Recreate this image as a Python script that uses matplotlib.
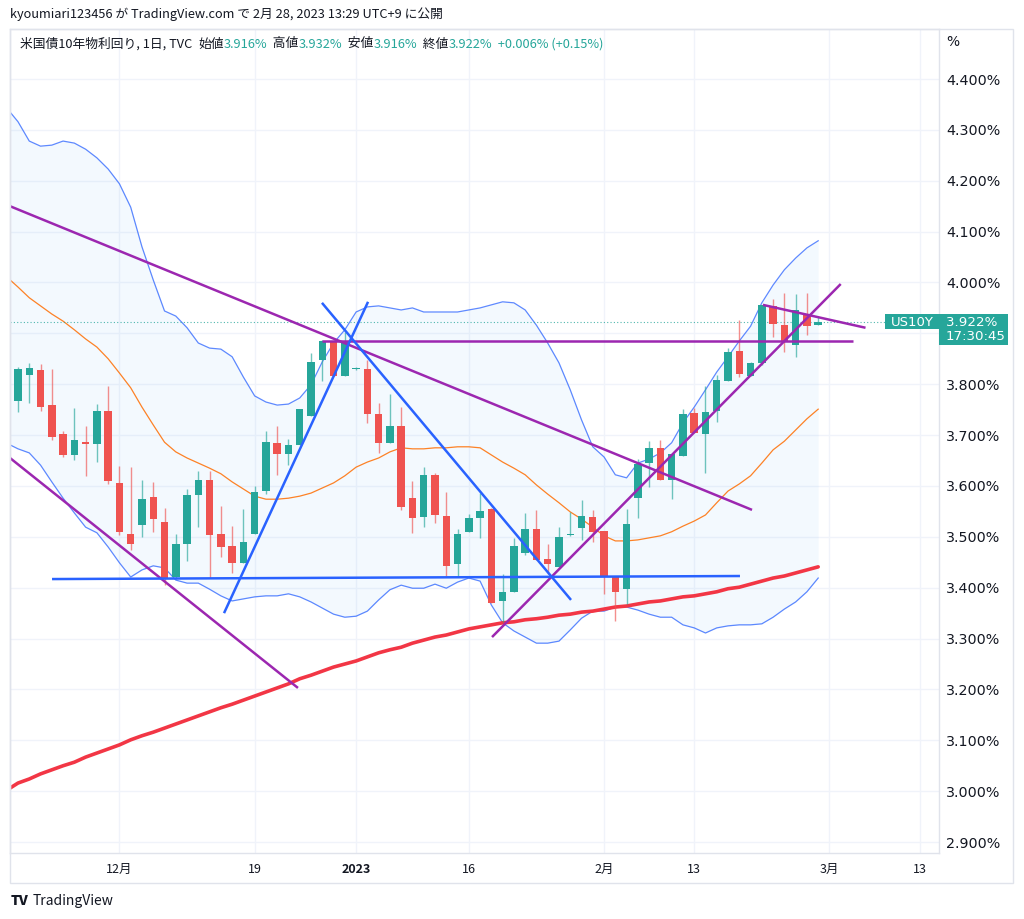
import matplotlib
matplotlib.use("Agg")
import matplotlib.pyplot as plt
from matplotlib.patches import Rectangle

plt.rcParams['font.family'] = ['Noto Sans CJK JP', 'DejaVu Sans']

# ---- data (bar index -1 .. 71, daily, US10Y) ----
opens = [3.690, 3.767, 3.818, 3.828, 3.759, 3.702, 3.661, 3.686, 3.682, 3.747,
         3.606, 3.506, 3.523, 3.578, 3.529, 3.421, 3.486, 3.582, 3.612, 3.506,
         3.482, 3.449, 3.506, 3.590, 3.684, 3.663, 3.680, 3.738, 3.848, 3.883,
         3.816, 3.829, 3.830, 3.741, 3.684, 3.718, 3.576, 3.539, 3.622, 3.541,
         3.447, 3.510, 3.537, 3.555, 3.374, 3.392, 3.468, 3.515, 3.456, 3.441,
         3.504, 3.517, 3.539, 3.512, 3.423, 3.397, 3.576, 3.645, 3.675, 3.612,
         3.659, 3.743, 3.702, 3.747, 3.806, 3.865, 3.816, 3.842, 3.954, 3.916,
         3.877, 3.936, 3.916]
highs = [3.785, 3.834, 3.842, 3.840, 3.830, 3.708, 3.753, 3.718, 3.761, 3.797,
         3.639, 3.637, 3.612, 3.608, 3.557, 3.506, 3.594, 3.629, 3.629, 3.561,
         3.521, 3.555, 3.600, 3.708, 3.718, 3.692, 3.751, 3.861, 3.887, 3.887,
         3.903, 3.833, 3.848, 3.763, 3.781, 3.755, 3.610, 3.637, 3.626, 3.588,
         3.515, 3.545, 3.586, 3.557, 3.427, 3.498, 3.547, 3.553, 3.486, 3.519,
         3.549, 3.572, 3.553, 3.512, 3.423, 3.555, 3.653, 3.688, 3.690, 3.663,
         3.751, 3.753, 3.797, 3.818, 3.871, 3.926, 3.844, 3.956, 3.968, 3.979,
         3.977, 3.979, 3.932]
lows = [3.682, 3.745, 3.763, 3.747, 3.690, 3.657, 3.651, 3.620, 3.647, 3.604,
        3.504, 3.474, 3.500, 3.510, 3.405, 3.417, 3.452, 3.519, 3.419, 3.460,
        3.429, 3.449, 3.506, 3.584, 3.622, 3.641, 3.680, 3.738, 3.806, 3.816,
        3.816, 3.827, 3.724, 3.665, 3.684, 3.553, 3.508, 3.519, 3.527, 3.423,
        3.423, 3.510, 3.498, 3.370, 3.333, 3.392, 3.464, 3.454, 3.427, 3.441,
        3.502, 3.494, 3.490, 3.388, 3.335, 3.368, 3.537, 3.598, 3.612, 3.574,
        3.659, 3.704, 3.625, 3.726, 3.806, 3.814, 3.816, 3.838, 3.893, 3.863,
        3.853, 3.897, 3.916]
closes = [3.773, 3.830, 3.832, 3.755, 3.696, 3.661, 3.690, 3.682, 3.747, 3.610,
          3.510, 3.486, 3.574, 3.535, 3.417, 3.486, 3.582, 3.612, 3.504, 3.480,
          3.449, 3.490, 3.588, 3.686, 3.663, 3.680, 3.751, 3.844, 3.885, 3.816,
          3.883, 3.831, 3.741, 3.684, 3.718, 3.559, 3.537, 3.622, 3.543, 3.443,
          3.506, 3.537, 3.551, 3.370, 3.392, 3.482, 3.515, 3.454, 3.447, 3.500,
          3.506, 3.541, 3.510, 3.421, 3.392, 3.525, 3.643, 3.675, 3.612, 3.663,
          3.741, 3.704, 3.745, 3.808, 3.863, 3.820, 3.842, 3.956, 3.918, 3.883,
          3.946, 3.914, 3.922]

bb_upper = [4.343, 4.316, 4.278, 4.268, 4.270, 4.278, 4.274, 4.262, 4.245, 4.223,
            4.194, 4.148, 4.070, 4.005, 3.944, 3.934, 3.911, 3.881, 3.871, 3.869,
            3.854, 3.814, 3.777, 3.765, 3.759, 3.761, 3.773, 3.799, 3.844, 3.881,
            3.907, 3.942, 3.952, 3.954, 3.950, 3.946, 3.950, 3.942, 3.942, 3.942,
            3.942, 3.946, 3.950, 3.956, 3.962, 3.960, 3.946, 3.916, 3.881, 3.842,
            3.789, 3.730, 3.677, 3.657, 3.622, 3.616, 3.645, 3.653, 3.665, 3.685,
            3.724, 3.755, 3.789, 3.824, 3.854, 3.885, 3.914, 3.960, 3.995, 4.025,
            4.048, 4.068, 4.082]
bb_basis = [4.011, 3.991, 3.970, 3.954, 3.938, 3.924, 3.907, 3.889, 3.873, 3.850,
            3.822, 3.793, 3.755, 3.720, 3.686, 3.667, 3.655, 3.645, 3.635, 3.624,
            3.608, 3.594, 3.580, 3.574, 3.574, 3.576, 3.580, 3.586, 3.596, 3.606,
            3.620, 3.637, 3.647, 3.655, 3.667, 3.675, 3.673, 3.673, 3.675, 3.675,
            3.677, 3.677, 3.675, 3.661, 3.647, 3.635, 3.622, 3.602, 3.584, 3.567,
            3.549, 3.535, 3.519, 3.502, 3.492, 3.492, 3.494, 3.498, 3.502, 3.510,
            3.521, 3.531, 3.543, 3.567, 3.590, 3.604, 3.620, 3.645, 3.671, 3.688,
            3.710, 3.732, 3.751]
bb_lower = [3.684, 3.673, 3.665, 3.641, 3.608, 3.576, 3.547, 3.519, 3.508, 3.480,
            3.449, 3.421, 3.435, 3.443, 3.439, 3.415, 3.409, 3.409, 3.397, 3.384,
            3.374, 3.378, 3.382, 3.384, 3.384, 3.388, 3.382, 3.372, 3.360, 3.348,
            3.342, 3.344, 3.354, 3.376, 3.396, 3.405, 3.399, 3.399, 3.407, 3.399,
            3.411, 3.419, 3.413, 3.366, 3.331, 3.315, 3.303, 3.291, 3.291, 3.295,
            3.317, 3.340, 3.354, 3.354, 3.362, 3.362, 3.356, 3.348, 3.342, 3.342,
            3.327, 3.321, 3.311, 3.321, 3.325, 3.327, 3.327, 3.329, 3.342, 3.358,
            3.372, 3.392, 3.419]
ma200 = [3.002, 3.016, 3.024, 3.034, 3.042, 3.050, 3.057, 3.067, 3.075, 3.083,
         3.091, 3.101, 3.109, 3.116, 3.124, 3.132, 3.140, 3.148, 3.156, 3.164,
         3.171, 3.179, 3.187, 3.195, 3.203, 3.211, 3.221, 3.228, 3.236, 3.244,
         3.250, 3.256, 3.264, 3.272, 3.278, 3.283, 3.291, 3.297, 3.303, 3.307,
         3.313, 3.319, 3.323, 3.327, 3.331, 3.333, 3.337, 3.339, 3.342, 3.346,
         3.348, 3.352, 3.354, 3.358, 3.362, 3.364, 3.368, 3.372, 3.374, 3.378,
         3.382, 3.384, 3.388, 3.392, 3.398, 3.401, 3.407, 3.413, 3.419, 3.423,
         3.429, 3.435, 3.441]
bars = list(range(-1, len(opens) - 1))

# hand drawn trend lines: (bar0, price0, bar1, price1)
purple_lines = [(-0.71, 4.150, 65.13, 3.553),
                (26.97, 3.885, 74.10, 3.885),
                (66.10, 3.956, 75.20, 3.911),
                (42.06, 3.303, 73.00, 3.997),
                (-0.71, 3.655, 24.84, 3.203)]
blue_lines = [(3.02, 3.417, 64.06, 3.423),
              (18.28, 3.350, 31.06, 3.962),
              (26.97, 3.960, 49.07, 3.376)]

last_price = 3.922
x_ticks = [9, 21, 30, 40, 52, 60, 72, 80]
x_tick_labels = ["12月", "19", "2023", "16", "2月", "13", "3月", "13"]
y_ticks = [2.9, 3.0, 3.1, 3.2, 3.3, 3.4, 3.5, 3.6, 3.7, 3.8, 3.9, 4.0, 4.1, 4.2, 4.3, 4.4]
# 3.900% sits under the price label, so it is not printed
y_tick_labels = ["" if v == 3.9 else f"{v:.3f}%" for v in y_ticks]

UP = "#26a69a"
DOWN = "#ef5350"
PURPLE = "#9c27b0"
BLUE = "#2962ff"
TXT = "#131722"
BORDER = "#e0e3eb"
AXFONT = ['DejaVu Sans']

W, H = 1024, 919
fig = plt.figure(figsize=(W / 100, H / 100), dpi=100)


def fx(x):
    return x / W


def fy(y):
    return 1 - y / H


ax = fig.add_axes([fx(10), fy(853), fx(939) - fx(10), fy(29) - fy(853)])
ax.set_xlim(-0.71, 81.72)
ax.set_ylim(2.8785, 4.4983)

ax.grid(True, color="#f0f3fa", lw=1)
ax.set_axisbelow(True)
for s in ax.spines.values():
    s.set_color(BORDER)
    s.set_linewidth(1)

ax.set_xticks(x_ticks)
ax.set_xticklabels(x_tick_labels)
for lbl in ax.get_xticklabels():
    if lbl.get_text() == "2023":
        lbl.set_fontweight("bold")
ax.yaxis.tick_right()
ax.set_yticks(y_ticks)
ax.set_yticklabels(y_tick_labels, family=AXFONT)
ax.tick_params(axis="x", length=0, pad=7, labelsize=9, colors=TXT)
ax.tick_params(axis="y", length=0, pad=5, labelsize=10.3, colors=TXT)

# Bollinger band + moving averages
ax.fill_between(bars, bb_lower, bb_upper, color="#2196f3", alpha=0.05, lw=0)
ax.plot(bars, bb_upper, color=BLUE, lw=0.9, alpha=0.75)
ax.plot(bars, bb_lower, color=BLUE, lw=0.9, alpha=0.75)
ax.plot(bars, bb_basis, color="#ff6d00", lw=0.9, alpha=0.85)
ax.plot(bars, ma200, color="#f23645", lw=2.6, solid_capstyle="round")

# last price dotted line
ax.axhline(last_price, color=UP, lw=0.8, ls=(0, (1, 2)), alpha=0.8)

# candles
for i, o, h, l, c in zip(bars, opens, highs, lows, closes):
    col = UP if c >= o else DOWN
    ax.vlines(i, l, h, color=col, lw=1, alpha=0.65, zorder=3)
    body = max(abs(c - o), 0.0025)
    ax.bar(i, body, bottom=min(o, c), width=0.66, color=col, lw=0, zorder=4)

# trend lines
for x0, y0, x1, y1 in purple_lines:
    ax.plot([x0, x1], [y0, y1], color=PURPLE, lw=1.8, zorder=5, solid_capstyle="butt")
for x0, y0, x1, y1 in blue_lines:
    ax.plot([x0, x1], [y0, y1], color=BLUE, lw=1.8, zorder=5, solid_capstyle="butt")

# outer frame of chart + time axis
fig.patches.append(Rectangle((fx(10), fy(883)), fx(1013) - fx(10), fy(29) - fy(883),
                             transform=fig.transFigure, fill=False, ec=BORDER, lw=1))
fig.text(fx(953), fy(42), "%", fontsize=10, family=AXFONT, color=TXT, ha="center", va="center")

# price label on the axis
fig.patches.append(Rectangle((fx(885), fy(329)), fx(939) - fx(885), fy(314) - fy(329),
                             transform=fig.transFigure, color=UP, lw=0))
fig.patches.append(Rectangle((fx(939), fy(345)), fx(1008) - fx(939), fy(314) - fy(345),
                             transform=fig.transFigure, color=UP, lw=0))
fig.text(fx(891), fy(322), "US10Y", fontsize=9.5, family=AXFONT, color="white", va="center")
fig.text(fx(946), fy(322), f"{last_price:.3f}%", fontsize=9.6, family=AXFONT,
         color="white", va="center")
fig.text(fx(946), fy(337), "17:30:45", fontsize=9.6, family=AXFONT, color="white", va="center")

# header and legend
fig.text(fx(10), fy(14), "kyoumiari123456 が TradingView.com で 2月 28, 2023 13:29 UTC+9 に公開",
         fontsize=9.2, color=TXT, va="center")

renderer = fig.canvas.get_renderer()
legend_parts = [("米国債10年物利回り, 1日, TVC  ", TXT), ("始値", TXT), ("3.916%", UP),
                ("  高値", TXT), ("3.932%", UP), ("  安値", TXT), ("3.916%", UP),
                ("  終値", TXT), ("3.922%", UP), ("  +0.006% (+0.15%)", UP)]
x = 20
for s, col in legend_parts:
    t = fig.text(fx(x), fy(44), s, fontsize=9.2, color=col, va="center")
    x += t.get_window_extent(renderer).width

# logo
fig.text(fx(11), fy(901), "TV", fontsize=10, fontweight="heavy", color=TXT, va="center")
fig.text(fx(33), fy(901), "TradingView", fontsize=10, color=TXT, va="center")

fig.savefig("out.png", dpi=100, facecolor="white")
